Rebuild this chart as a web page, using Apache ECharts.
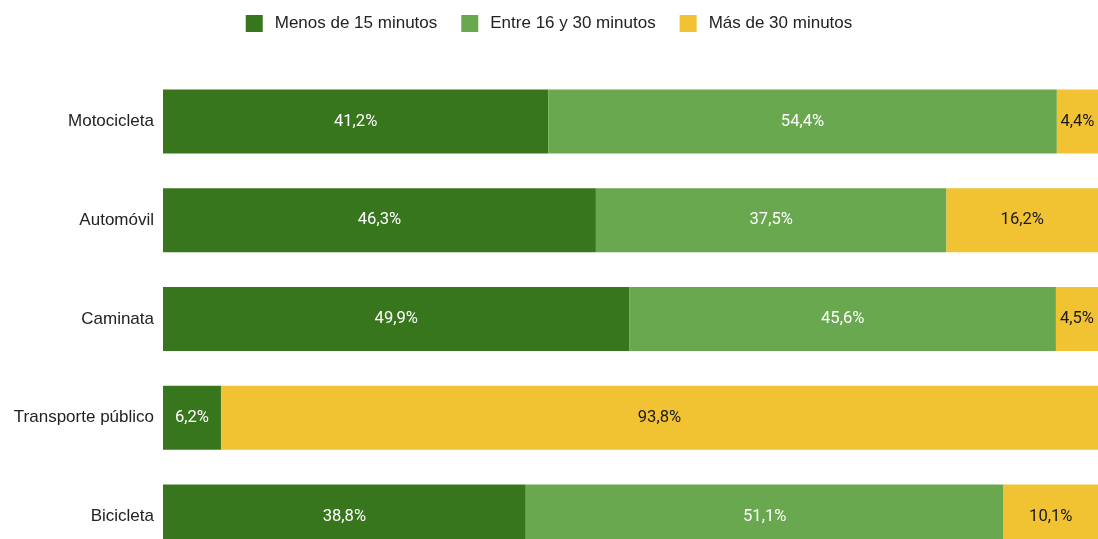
<!DOCTYPE html>
<html>
<head>
<meta charset="utf-8">
<script src="https://cdn.jsdelivr.net/npm/echarts@6/dist/echarts.min.js"></script>
<style>html,body{margin:0;padding:0;background:#fff}#c{width:1098px;height:539px}</style>
</head>
<body>
<div id="c"></div>
<script>
const categories = ["Motocicleta", "Automóvil", "Caminata", "Transporte público", "Bicicleta"];
const seriesNames = ["Menos de 15 minutos", "Entre 16 y 30 minutos", "Más de 30 minutos"];
const menos15 = [41.2, 46.3, 49.9, 6.2, 38.8];
const entre16y30 = [54.4, 37.5, 45.6, 0, 51.1];
const mas30 = [4.4, 16.2, 4.5, 93.8, 10.1];
const colors = ["#38761d", "#6aa84f", "#f1c232"];
const labelColors = ["#ffffff", "#ffffff", "#1a1a1a"];

const fmt = v => v.toFixed(1).replace('.', ',') + '%';
const values = [menos15, entre16y30, mas30];

const chart = echarts.init(document.getElementById('c'));
chart.setOption({
  animation: false,
  legend: {
    top: 10,
    left: 'center',
    itemWidth: 17,
    itemHeight: 17,
    itemGap: 24,
    icon: 'rect',
    textStyle: { fontFamily: 'Liberation Sans', fontSize: 17, color: '#222', padding: [0, 0, 0, 7] },
    data: seriesNames
  },
  grid: { left: 163, right: 0, top: 72, height: 494, containLabel: false, outerBoundsMode: 'none' },
  xAxis: { type: 'value', min: 0, max: 100, show: false },
  yAxis: {
    type: 'category',
    inverse: true,
    data: categories,
    axisLine: { show: false },
    axisTick: { show: false },
    axisLabel: { fontFamily: 'Liberation Sans', fontSize: 17, color: '#222', margin: 9 }
  },
  series: seriesNames.map((name, i) => ({
    name: name,
    type: 'bar',
    stack: 'total',
    barWidth: 64,
    itemStyle: { color: colors[i] },
    label: {
      show: true,
      position: 'inside',
      fontFamily: 'Roboto',
      fontSize: 16.6,
      color: labelColors[i],
      formatter: p => p.value > 0 ? fmt(p.value) : ''
    },
    data: values[i]
  }))
});
</script>
</body>
</html>
